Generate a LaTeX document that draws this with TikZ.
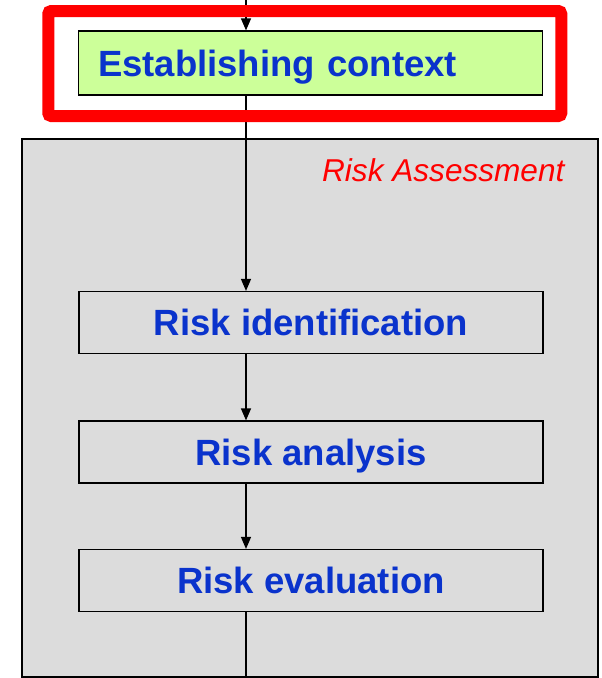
\documentclass[tikz,border=0pt]{standalone}
\usepackage{fontspec}
\setmainfont{Liberation Sans}
\usetikzlibrary{arrows.meta}
\definecolor{panelgrey}{RGB}{220,220,220}
\definecolor{ctxgreen}{RGB}{204,255,153}
\definecolor{stepblue}{RGB}{10,51,204}

\begin{document}
\begin{tikzpicture}[x=1pt,y=-1pt,>={Triangle[length=12pt,width=10pt]},
 flow/.style={->,line width=1.3pt},
 stepbox/.style={draw,line width=1.2pt,minimum width=464pt,minimum height=62pt,inner sep=0pt,
   text height=26pt,text depth=0pt,
   font=\fontsize{36.5}{40}\selectfont\bfseries,text=stepblue}]
 \useasboundingbox (0,0) rectangle (602,678);
 % risk assessment panel
 \node[draw,line width=1.8pt,fill=panelgrey,minimum width=576pt,minimum height=538pt,inner sep=0pt] (panel) at (310,408) {};
 \node[anchor=base east,text=red,font=\fontsize{31.6}{36}\selectfont\itshape] (title) at (568,181) {Risk Assessment};
 \coordinate (spine) at (246,0);

 % the four steps
 \node[stepbox,fill=ctxgreen,text width=425pt,inner xsep=19pt,align=left,minimum height=64pt] (ctx) at (310.5,63) {Establishing context};
 \node[stepbox] (ident) at (311,322.5) {Risk identification};
 \node[stepbox] (anal) at (311,452) {Risk analysis};
 \node[stepbox] (eval) at (311,580.5) {Risk evaluation};

 % connectors along the spine
 \draw[flow] (spine) -- (ctx.north -| spine);
 \draw[flow] (ctx.south -| spine) -- (ident.north -| spine);
 \draw[flow] (ident.south -| spine) -- (anal.north -| spine);
 \draw[flow] (anal.south -| spine) -- (eval.north -| spine);
 \draw[line width=1.3pt] (eval.south -| spine) -- (panel.south -| spine);

 % highlight round the context step
 \node[draw=red,line width=12pt,rounded corners=3pt,minimum width=513pt,minimum height=105pt,inner sep=0pt] (mark) at (304.75,63.5) {};
\end{tikzpicture}
\end{document}
